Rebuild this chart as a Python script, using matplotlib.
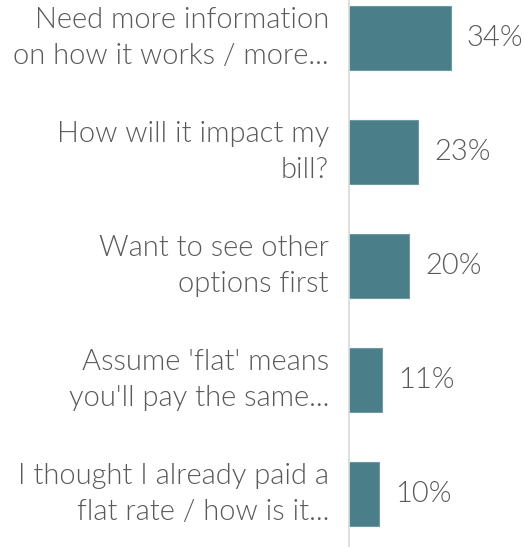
import matplotlib
matplotlib.use("Agg")
import matplotlib.pyplot as plt

# survey responses, top to bottom
labels = [
    "Need more information\non how it works / more...",
    "How will it impact my\nbill?",
    "Want to see other\noptions first",
    "Assume 'flat' means\nyou'll pay the same...",
    "I thought I already paid a\nflat rate / how is it...",
]
values = [34, 23, 20, 11, 10]

bar_color = "#4a7f8a"
text_color = "#595959"
font = ["Lato", "DejaVu Sans"]

W, H = 524, 547
fig = plt.figure(figsize=(W / 100, H / 100), dpi=100)
axis_x = 349
ax = fig.add_axes([axis_x / W, 0, 1 - axis_x / W, 1])

pos = list(range(len(values)))
ax.barh(pos, values, height=0.57, color=bar_color, edgecolor="#6d9aa3", linewidth=0.8)

ax.set_xlim(0, (W - axis_x) / 3.0)
ax.set_ylim((H - 38) / 114.0, -38 / 114.0)

for spine in ["top", "right", "bottom"]:
    ax.spines[spine].set_visible(False)
ax.spines["left"].set_color("#d9d9d9")
ax.spines["left"].set_linewidth(1.2)
ax.set_xticks([])
ax.set_yticks([])

for i, (lab, v) in enumerate(zip(labels, values)):
    ax.text(-6.7, i, lab, ha="right", va="center", fontsize=21, weight=300,
            color=text_color, family=font, linespacing=1.5)
    ax.text(v + 5.3, i, f"{v}%", ha="left", va="center", fontsize=21, weight=300,
            color=text_color, family=font)

fig.savefig("out.png", dpi=100)
